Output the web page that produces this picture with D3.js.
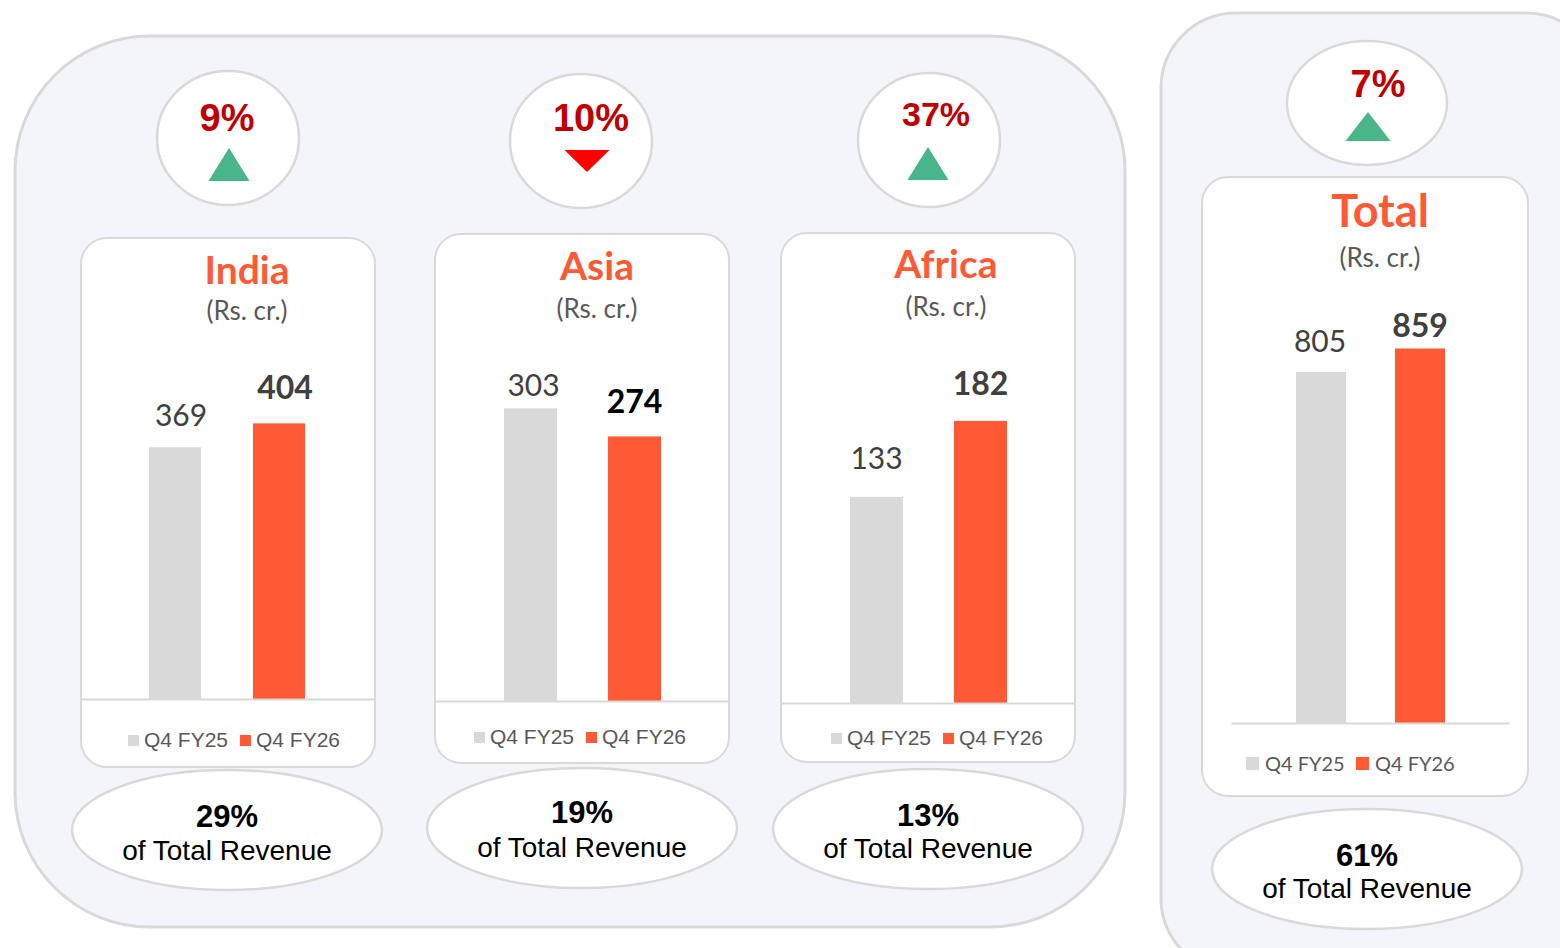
<!DOCTYPE html>
<html>
<head>
<meta charset="utf-8">
<script src="https://cdn.jsdelivr.net/npm/d3@7/dist/d3.min.js"></script>
<style>
  html, body { margin: 0; padding: 0; background: #ffffff; }
  svg { display: block; }
</style>
</head>
<body>
<svg id="chart" width="1560" height="948"></svg>
<script>
// ---------- DATA ----------
const panels = ["India", "Asia", "Africa", "Total"];
const unitLabel = "(Rs. cr.)";
const seriesNames = ["Q4 FY25", "Q4 FY26"];
const fy25 = [369, 303, 133, 805];
const fy26 = [404, 274, 182, 859];
const growth = ["9%", "10%", "37%", "7%"];
const growthDir = ["up", "down", "up", "up"];
const share = ["29%", "19%", "13%", "61%"];
const shareText = "of Total Revenue";
const axisMax = [450, 350, 200, 1000];

// ---------- LAYOUT / STYLE ----------
const C = {
  orange: "#ff5a36", grey: "#d9d9d9", panelFill: "#f4f5fb", stroke: "#d9d9d9",
  red: "#c00000", down: "#ff0000", green: "#48b689", text: "#404040", sub: "#595959"
};
const layout = [
  { card: [81, 238, 294, 529], baseY: 699, plotH: 307, barC: 227, step: 104, bw: 52, axis: [81, 375],
    circle: [228, 138, 71, 67], pctY: 131, pctX: 227, pctSize: 38, tri: [229, 148, 181, 41],
    titleX: 247, titleY: 284, titleSize: 39, subY: 320,
    labelGap: [21, 24], labelDx: 6, bold: [false, true], boldColor: "#404040",
    legY: 747, legX: 128, legFont: "Liberation Sans, Arial, sans-serif", legSize: 21, legGap: 112, sq: 11,
    ell: [227, 830, 155, 60], shY: 827, stY: 860 },
  { card: [435, 234, 294, 529], baseY: 701, plotH: 338, barC: 582.5, step: 104, bw: 53, axis: [435, 729],
    circle: [581, 141, 71, 67], pctY: 131, pctX: 591, pctSize: 38, tri: [587, 172, 150, 45],
    titleX: 597, titleY: 280, titleSize: 39, subY: 318,
    labelGap: [12, 23], labelDx: 3, bold: [false, true], boldColor: "#000000",
    legY: 744, legX: 474, legFont: "Liberation Sans, Arial, sans-serif", legSize: 21, legGap: 112, sq: 11,
    ell: [582, 828, 155, 60], shY: 823, stY: 857 },
  { card: [781, 233, 294, 529], baseY: 703, plotH: 310, barC: 928.5, step: 104, bw: 53, axis: [781, 1075],
    circle: [929, 140, 71, 67], pctY: 126, pctX: 936, pctSize: 34, tri: [928, 147, 180, 41],
    titleX: 946, titleY: 278, titleSize: 39, subY: 316,
    labelGap: [28, 26], labelDx: 0, bold: [false, true], boldColor: "#404040",
    legY: 745, legX: 831, legFont: "Liberation Sans, Arial, sans-serif", legSize: 21, legGap: 112, sq: 11,
    ell: [928, 829, 155, 60], shY: 826, stY: 858 },
  { card: [1202, 177, 326, 619], baseY: 723, plotH: 436, barC: 1370.5, step: 99, bw: 50, axis: [1231, 1509],
    circle: [1367, 103, 80, 62], pctY: 97, pctX: 1378, pctSize: 38, tri: [1368, 112, 141, 45],
    titleX: 1380, titleY: 227, titleSize: 45, subY: 267,
    labelGap: [20, 11], labelDx: -1, bold: [false, true], boldColor: "#404040",
    legY: 771, legX: 1246, legFont: "Lato, sans-serif", legSize: 20, legGap: 110, sq: 13,
    ell: [1367, 869, 155, 60], shY: 866, stY: 898 }
];

const svg = d3.select("#chart");

// Outer panels
svg.append("rect").attr("x", 15).attr("y", 36).attr("width", 1110).attr("height", 891)
  .attr("rx", 135).attr("ry", 135)
  .attr("fill", C.panelFill).attr("stroke", C.stroke).attr("stroke-width", 3);
svg.append("rect").attr("x", 1161).attr("y", 13).attr("width", 440).attr("height", 960)
  .attr("rx", 75).attr("ry", 75)
  .attr("fill", C.panelFill).attr("stroke", C.stroke).attr("stroke-width", 3);

panels.forEach((name, i) => {
  const L = layout[i];
  const g = svg.append("g").attr("class", "panel-" + name);

  // growth circle
  g.append("ellipse").attr("cx", L.circle[0]).attr("cy", L.circle[1])
    .attr("rx", L.circle[2]).attr("ry", L.circle[3])
    .attr("fill", "#fff").attr("stroke", C.stroke).attr("stroke-width", 2.5);
  g.append("text").attr("x", L.pctX).attr("y", L.pctY).attr("text-anchor", "middle")
    .attr("font-family", "Liberation Sans, Arial, sans-serif").attr("font-weight", "bold")
    .attr("font-size", L.pctSize).attr("fill", C.red).text(growth[i]);
  const [tx, ty1, ty2, tw] = L.tri;
  const tri = [[tx, ty1], [tx - tw / 2, ty2], [tx + tw / 2, ty2]];
  g.append("path").attr("d", d3.line()(tri) + "Z")
    .attr("fill", growthDir[i] === "up" ? C.green : C.down);

  // card
  const [cx, cy, cw, ch] = L.card;
  g.append("rect").attr("x", cx).attr("y", cy).attr("width", cw).attr("height", ch)
    .attr("rx", 26).attr("ry", 26).attr("fill", "#fff").attr("stroke", C.stroke).attr("stroke-width", 2);

  g.append("text").attr("x", L.titleX).attr("y", L.titleY).attr("text-anchor", "middle")
    .attr("font-family", "Lato, sans-serif").attr("font-weight", "bold")
    .attr("font-size", L.titleSize).attr("fill", C.orange).text(name);
  g.append("text").attr("x", L.titleX).attr("y", L.subY).attr("text-anchor", "middle")
    .attr("font-family", "Lato, sans-serif").attr("font-size", 26)
    .attr("fill", C.sub).text(unitLabel);

  // scales
  const pad = 1 - L.bw / L.step;
  const x = d3.scaleBand().domain(seriesNames)
    .range([L.barC - L.step, L.barC + L.step]).paddingInner(pad).paddingOuter(pad / 2);
  const y = d3.scaleLinear().domain([0, axisMax[i]]).range([L.baseY, L.baseY - L.plotH]);
  const vals = [fy25[i], fy26[i]];
  const colors = [C.grey, C.orange];

  g.selectAll("rect.bar").data(vals).join("rect").attr("class", "bar")
    .attr("x", (d, k) => x(seriesNames[k])).attr("width", x.bandwidth())
    .attr("y", d => y(d)).attr("height", d => y(0) - y(d))
    .attr("fill", (d, k) => colors[k]);

  g.selectAll("text.val").data(vals).join("text").attr("class", "val")
    .attr("x", (d, k) => x(seriesNames[k]) + x.bandwidth() / 2 + (k === 0 || i === 0 ? L.labelDx : 0))
    .attr("y", (d, k) => y(d) - L.labelGap[k])
    .attr("text-anchor", "middle").attr("font-family", "Lato, sans-serif")
    .attr("font-size", (d, k) => L.bold[k] ? 32 : 30)
    .attr("font-weight", (d, k) => L.bold[k] ? "bold" : "normal")
    .attr("fill", (d, k) => L.bold[k] ? L.boldColor : C.text)
    .text(d => d);

  // axis line
  const ax = d3.axisBottom(d3.scaleLinear().range([L.axis[0], L.axis[1]])).ticks(0).tickSize(0).tickFormat("");
  const axG = g.append("g").attr("transform", `translate(0,${L.baseY})`).call(ax);
  axG.select(".domain").attr("stroke", C.stroke).attr("stroke-width", 2);

  // legend
  const lg = g.append("g");
  seriesNames.forEach((s, k) => {
    const lx = L.legX + k * L.legGap;
    const sq = L.sq;
    lg.append("rect").attr("x", lx).attr("y", L.legY - sq - 1).attr("width", sq).attr("height", sq)
      .attr("fill", colors[k]);
    lg.append("text").attr("x", lx + sq + 5 + (i === 3 ? 1 : 0)).attr("y", L.legY)
      .attr("font-family", L.legFont).attr("font-size", L.legSize)
      .attr("fill", C.sub).text(s);
  });

  // share ellipse
  g.append("ellipse").attr("cx", L.ell[0]).attr("cy", L.ell[1]).attr("rx", L.ell[2]).attr("ry", L.ell[3])
    .attr("fill", "#fff").attr("stroke", C.stroke).attr("stroke-width", 2.5);
  g.append("text").attr("x", L.ell[0]).attr("y", L.shY).attr("text-anchor", "middle")
    .attr("font-family", "Liberation Sans, Arial, sans-serif").attr("font-weight", "bold")
    .attr("font-size", 31).attr("fill", "#000").text(share[i]);
  g.append("text").attr("x", L.ell[0]).attr("y", L.stY).attr("text-anchor", "middle")
    .attr("font-family", "Liberation Sans, Arial, sans-serif")
    .attr("font-size", 28).attr("fill", "#000").text(shareText);
});
</script>
</body>
</html>
